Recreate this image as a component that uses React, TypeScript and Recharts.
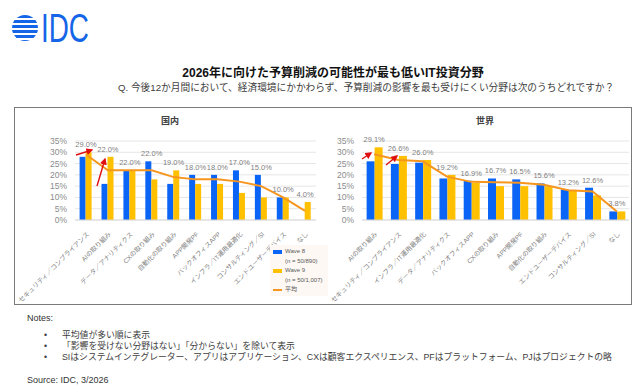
import {
  ComposedChart,
  Bar,
  Line,
  XAxis,
  YAxis,
  CartesianGrid,
  LabelList,
} from "recharts";

// 国内 (Japan)
const jpCategories = [
  "セキュリティ／コンプライアンス",
  "AIの取り組み",
  "データ／アナリティクス",
  "CXの取り組み",
  "自動化の取り組み",
  "APP開発PF",
  "バックオフィスAPP",
  "インフラ／IT運用最適化",
  "コンサルティング／SI",
  "エンドユーザーデバイス",
  "なし",
];
const jpWave8 = [28, 16, 22, 26, 16, 20, 20, 22, 20, 10, 0];
const jpWave9 = [30, 28, 22, 18, 22, 16, 16, 12, 10, 10, 8];
const jpAvg = [29.0, 22.0, 22.0, 22.0, 19.0, 18.0, 18.0, 17.0, 15.0, 10.0, 4.0];

// 世界 (worldwide)
const wwCategories = [
  "AIの取り組み",
  "セキュリティ／コンプライアンス",
  "インフラ／IT運用最適化",
  "データ／アナリティクス",
  "バックオフィスAPP",
  "CXの取り組み",
  "APP開発PF",
  "自動化の取り組み",
  "エンドユーザーデバイス",
  "コンサルティング／SI",
  "なし",
];
const wwWave8 = [26.0, 24.8, 25.4, 18.4, 17.4, 18.4, 18.0, 16.2, 13.5, 14.3, 3.8];
const wwWave9 = [32.2, 28.4, 26.6, 20.0, 16.4, 15.0, 15.0, 15.0, 12.9, 10.9, 3.8];
const wwAvg = [29.1, 26.6, 26.0, 19.2, 16.9, 16.7, 16.5, 15.6, 13.2, 12.6, 3.8];

const yTicks = [0, 5, 10, 15, 20, 25, 30, 35];

const notes = [
  "平均値が多い順に表示",
  "「影響を受けない分野はない」「分からない」を除いて表示",
  "SIはシステムインテグレーター、アプリはアプリケーション、CXは顧客エクスペリエンス、PFはプラットフォーム、PJはプロジェクトの略",
];

const BLUE = "#0a64f5";
const GOLD = "#ffc000";
const ORANGE = "#f7961e";
const FONT = "'Liberation Sans', 'Noto Sans CJK JP', sans-serif";

const buildRows = (cats: string[], w8: number[], w9: number[], avg: number[]) =>
  cats.map((name, i) => ({
    name,
    w8: w8[i],
    w9: w9[i],
    avg: avg[i],
    top: Math.max(w8[i], w9[i]),
  }));

const RotTick = (props: any) => {
  const { x, y, payload } = props;
  return (
    <text
      transform={`translate(${x + 2},${y + 5}) rotate(-45)`}
      textAnchor="end"
      dy="0.35em"
      fontSize={6.5}
      fill="#7f7f7f"
    >
      {payload.value}
    </text>
  );
};

const Panel = ({
  rows,
  left,
  width,
  yWidth,
  gap,
}: {
  rows: any[];
  left: number;
  width: number;
  yWidth: number;
  gap: string;
}) => (
  <div style={{ position: "absolute", left, top: 109 }}>
    <ComposedChart
      width={width}
      height={200}
      data={rows}
      margin={{ top: 32, right: 2, left: 0, bottom: 0 }}
      barCategoryGap={gap}
      barGap={0}
    >
      <CartesianGrid vertical={false} stroke="#e6e6e6" />
      <XAxis
        dataKey="name"
        interval={0}
        tick={<RotTick />}
        tickLine={false}
        axisLine={{ stroke: "#d9d9d9" }}
        height={89}
      />
      <YAxis
        domain={[0, 35]}
        ticks={yTicks}
        interval={0}
        tickFormatter={(v) => `${v}%`}
        width={yWidth}
        axisLine={false}
        tickLine={false}
        tick={{ fontSize: 8.5, fill: "#8c8c8c" }}
      />
      <Bar dataKey="w8" fill={BLUE} isAnimationActive={false} />
      <Bar dataKey="w9" fill={GOLD} isAnimationActive={false} />
      <Line
        dataKey="avg"
        stroke={ORANGE}
        strokeWidth={2}
        dot={false}
        activeDot={false}
        isAnimationActive={false}
      />
      <Line
        dataKey="top"
        stroke="none"
        dot={false}
        activeDot={false}
        isAnimationActive={false}
      >
        <LabelList
          dataKey="avg"
          position="top"
          offset={5}
          fontSize={7.5}
          fill="#7f7f7f"
          formatter={(v: any) => `${Number(v).toFixed(1)}%`}
        />
      </Line>
    </ComposedChart>
  </div>
);

const Logo = () => (
  <svg
    width={120}
    height={50}
    style={{ position: "absolute", left: 11, top: 2 }}
  >
    <defs>
      <clipPath id="ball">
        <circle cx={14} cy={26} r={13} />
      </clipPath>
    </defs>
    <g clipPath="url(#ball)" fill="#1565e8">
      {[13, 18, 23, 28, 33, 38].map((yy) => (
        <rect key={yy} x={0} y={yy} width={28} height={3} />
      ))}
    </g>
    <text
      x={30}
      y={40}
      fontSize={40}
      fill="#1565e8"
      fontFamily="'Liberation Sans', sans-serif"
      textLength={48}
      lengthAdjust="spacingAndGlyphs"
    >
      IDC
    </text>
  </svg>
);

const Arrows = () => (
  <svg
    width={640}
    height={392}
    style={{ position: "absolute", left: 0, top: 0, pointerEvents: "none" }}
  >
    <defs>
      <marker id="ah" markerWidth={5} markerHeight={5} refX={4} refY={2.5} orient="auto">
        <path d="M0,0 L5,2.5 L0,5 z" fill="#e01010" />
      </marker>
    </defs>
    <g stroke="#e01010" strokeWidth={1.4} markerEnd="url(#ah)">
      <line x1={76} y1={155} x2={92} y2={150} />
      <line x1={97} y1={186} x2={105} y2={159} />
      <line x1={362} y1={159} x2={371} y2={153} />
      <line x1={386} y1={165} x2={397} y2={156} />
    </g>
  </svg>
);

const Legend = () => (
  <div
    style={{
      position: "absolute",
      left: 270,
      top: 245,
      width: 58,
      height: 51,
      background: "#fdf8f3",
      fontSize: 6,
      color: "#595959",
      lineHeight: "9.5px",
    }}
  >
    <div style={{ display: "flex", alignItems: "center", marginTop: 2 }}>
      <span style={{ width: 9, height: 4, background: BLUE, margin: "0 3px 0 3px" }} />
      Wave 8
    </div>
    <div style={{ paddingLeft: 15 }}>(n = 50/890)</div>
    <div style={{ display: "flex", alignItems: "center" }}>
      <span style={{ width: 9, height: 4, background: GOLD, margin: "0 3px 0 3px" }} />
      Wave 9
    </div>
    <div style={{ paddingLeft: 15 }}>(n = 50/1,007)</div>
    <div style={{ display: "flex", alignItems: "center" }}>
      <span style={{ width: 9, height: 2, background: ORANGE, margin: "0 3px 0 3px" }} />
      平均
    </div>
  </div>
);

export default function App() {
  const jpRows = buildRows(jpCategories, jpWave8, jpWave9, jpAvg);
  const wwRows = buildRows(wwCategories, wwWave8, wwWave9, wwAvg);

  return (
    <div
      style={{
        position: "relative",
        width: 640,
        height: 392,
        background: "#fff",
        fontFamily: FONT,
        overflow: "hidden",
      }}
    >
      <style>{`body{margin:0}`}</style>
      <Logo />
      <div
        style={{
          position: "absolute",
          left: 0,
          width: 666,
          top: 63,
          textAlign: "center",
          fontSize: 12,
          fontWeight: 700,
          color: "#111",
        }}
      >
        2026年に向けた予算削減の可能性が最も低いIT投資分野
      </div>
      <div
        style={{
          position: "absolute",
          left: 118,
          top: 80,
          fontSize: 9.7,
          color: "#404040",
          whiteSpace: "nowrap",
        }}
      >
        Q. 今後12か月間において、経済環境にかかわらず、予算削減の影響を最も受けにくい分野は次のうちどれですか？
      </div>

      <div
        style={{
          position: "absolute",
          left: 14,
          top: 107,
          width: 616,
          height: 196,
          border: "1.5px solid #7a7a7a",
        }}
      />
      <div style={{ position: "absolute", left: 161, top: 114, fontSize: 9, fontWeight: 700, color: "#404040" }}>
        国内
      </div>
      <div style={{ position: "absolute", left: 476, top: 114, fontSize: 9, fontWeight: 700, color: "#404040" }}>
        世界
      </div>

      <Panel rows={jpRows} left={2} width={316} yWidth={73} gap="21%" />
      <Panel rows={wwRows} left={278} width={353} yWidth={84} gap="19%" />
      <Legend />
      <Arrows />

      <div style={{ position: "absolute", left: 27, top: 313, fontSize: 9, color: "#333" }}>Notes:</div>
      {notes.map((n, i) => (
        <div
          key={i}
          style={{
            position: "absolute",
            left: 44,
            top: 328 + i * 11,
            fontSize: 8.8,
            color: "#404040",
            whiteSpace: "nowrap",
          }}
        >
          <span style={{ display: "inline-block", width: 18 }}>•</span>
          {n}
        </div>
      ))}
      <div style={{ position: "absolute", left: 27, top: 375, fontSize: 9, color: "#333" }}>
        Source: IDC, 3/2026
      </div>
    </div>
  );
}
